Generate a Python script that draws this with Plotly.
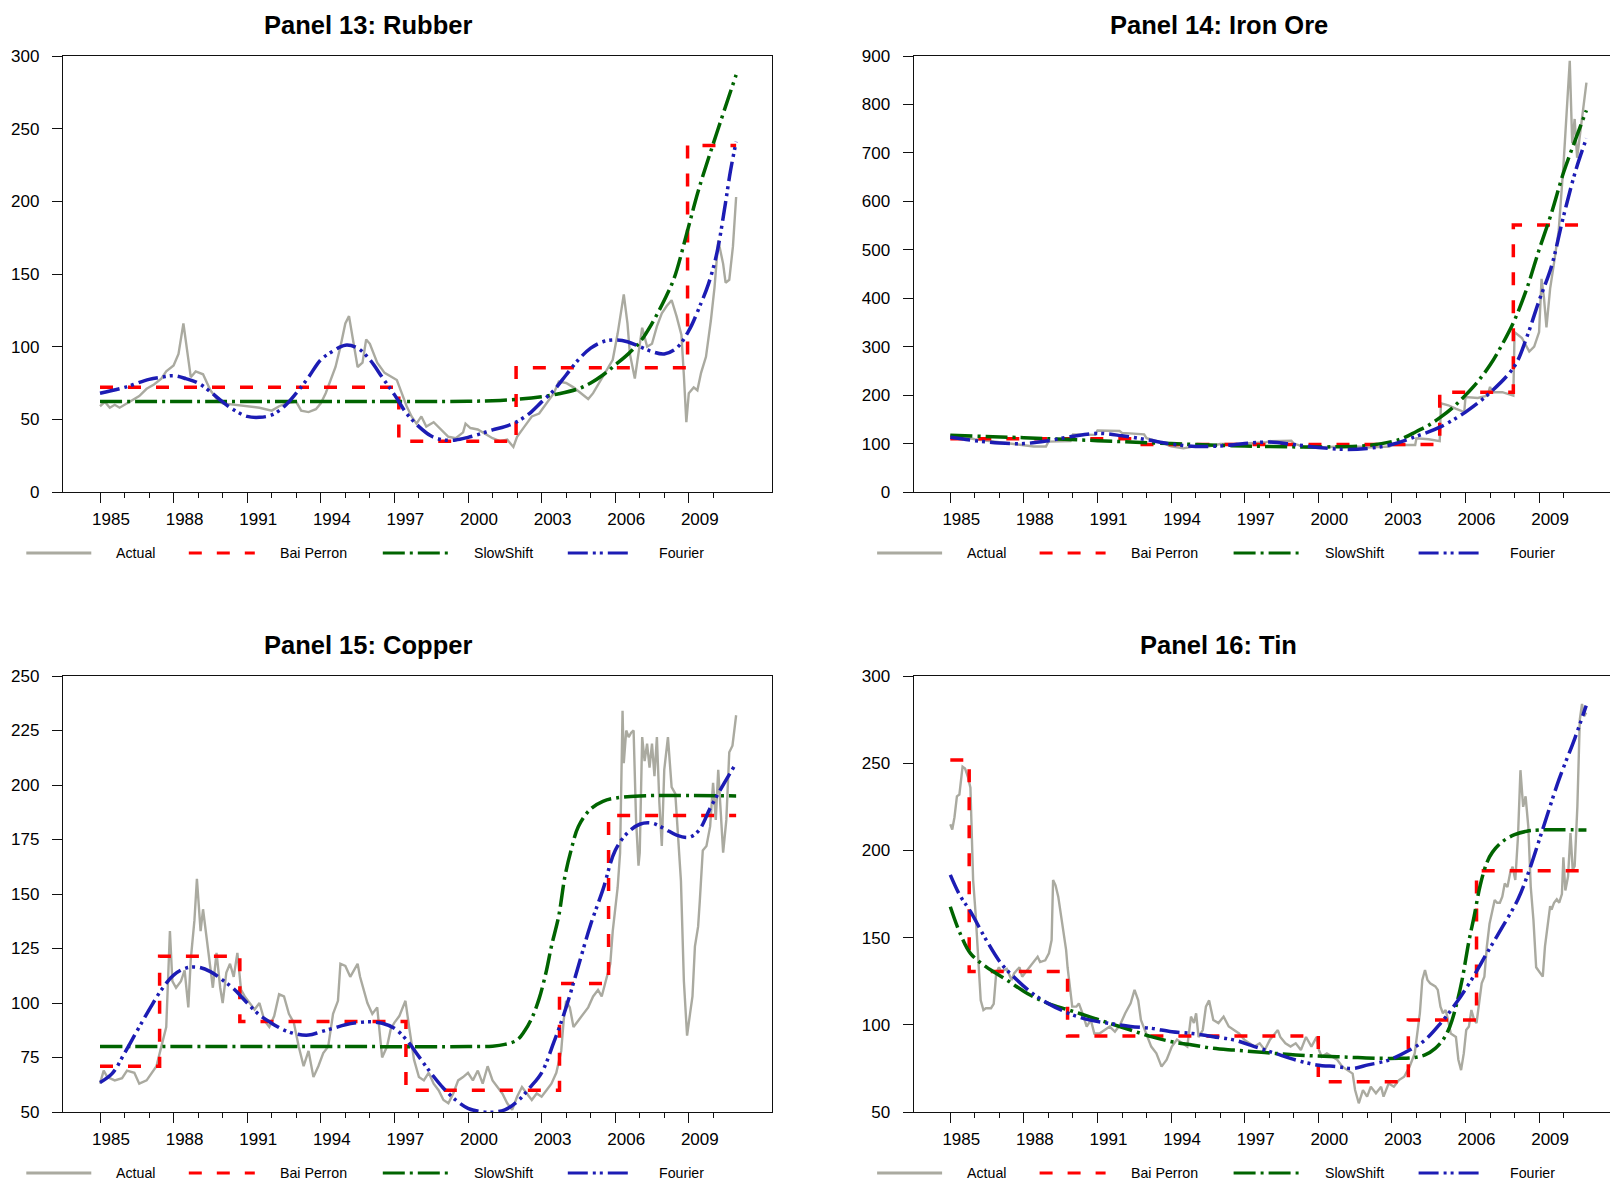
import plotly.graph_objects as go

W, H = 1610, 1185

# ---------------- axis ticks ----------------
major_years = [1985, 1988, 1991, 1994, 1997, 2000, 2003, 2006, 2009]
major_labels = [str(y) for y in major_years]
minor_years = list(range(1985, 2011))

# ---------------- Panel 13: Rubber ----------------
rubber_actual = [(1985.0, 59), (1985.2, 62), (1985.4, 58), (1985.6, 60), (1985.8, 58), (1986.0, 60), (1986.3, 63), (1986.6, 66),
                 (1986.9, 71), (1987.2, 74), (1987.5, 78), (1987.7, 83), (1988.0, 87), (1988.2, 95), (1988.4, 116), (1988.55, 98),
                 (1988.7, 79), (1988.9, 83), (1989.2, 81), (1989.5, 70), (1989.8, 63), (1990.0, 61), (1990.5, 60), (1991.0, 59),
                 (1991.5, 58), (1992.0, 56), (1992.3, 59), (1992.6, 61), (1993.0, 62), (1993.2, 56), (1993.5, 55), (1993.8, 57),
                 (1994.0, 61), (1994.2, 68), (1994.4, 77), (1994.6, 86), (1994.8, 100), (1995.0, 116), (1995.15, 121), (1995.3, 107),
                 (1995.5, 86), (1995.7, 89), (1995.85, 105), (1996.0, 102), (1996.3, 89), (1996.6, 82), (1996.9, 79), (1997.1, 77),
                 (1997.3, 68), (1997.5, 59), (1997.7, 52), (1997.9, 47), (1998.1, 52), (1998.3, 45), (1998.6, 48), (1998.9, 43),
                 (1999.2, 38), (1999.5, 37), (1999.8, 41), (1999.9, 47), (2000.1, 44), (2000.4, 43), (2000.7, 40), (2001.0, 37),
                 (2001.3, 35), (2001.6, 36), (2001.85, 31), (2002.0, 38), (2002.3, 45), (2002.6, 52), (2002.9, 54), (2003.2, 61),
                 (2003.5, 68), (2003.7, 76), (2004.0, 75), (2004.3, 72), (2004.6, 68), (2004.9, 64), (2005.1, 68), (2005.4, 77),
                 (2005.7, 86), (2005.9, 91), (2006.1, 109), (2006.35, 136), (2006.5, 116), (2006.6, 95), (2006.8, 78), (2007.0, 100),
                 (2007.1, 113), (2007.3, 100), (2007.5, 102), (2007.7, 114), (2007.9, 123), (2008.1, 128), (2008.3, 132), (2008.5, 121),
                 (2008.7, 108), (2008.8, 80), (2008.9, 48), (2009.0, 68), (2009.2, 72), (2009.35, 70), (2009.5, 82), (2009.7, 93),
                 (2009.9, 118), (2010.05, 141), (2010.2, 173), (2010.4, 157), (2010.5, 144), (2010.65, 146), (2010.8, 169), (2010.93, 203)]
rubber_baiperron = [(1985.0, 72), (1997.18, 35), (2001.96, 85.5), (2008.95, 238.5), (2010.93, 238.5)]
rubber_slowshift = [(1985.0, 62.2), (1990.0, 62.2), (1995.0, 62.2), (2000.0, 62.4), (2001.0, 62.8), (2002.0, 63.8), (2003.0, 65.6),
                    (2003.7, 67.6), (2004.5, 71), (2005.0, 75), (2005.5, 80.5), (2006.0, 87.4), (2006.5, 94.5), (2007.0, 103),
                    (2007.5, 116), (2008.0, 132), (2008.4, 147), (2008.95, 180), (2009.4, 208), (2010.14, 247), (2010.93, 287)]
rubber_fourier = [(1985.0, 68), (1986.0, 72), (1987.0, 77.5), (1987.5, 79), (1988.0, 80), (1988.5, 78), (1989.0, 75), (1989.5, 69),
                  (1990.0, 62), (1990.5, 56), (1991.0, 52), (1991.5, 51.4), (1992.0, 53), (1992.5, 58.7), (1993.0, 68), (1993.5, 79),
                  (1994.0, 91), (1994.5, 97), (1995.0, 101), (1995.5, 99), (1996.0, 91), (1996.5, 79), (1997.0, 67), (1997.5, 54),
                  (1998.0, 45), (1998.5, 38.5), (1999.0, 35.8), (1999.5, 35.8), (2000.0, 37.6), (2000.5, 40), (2001.0, 42.7),
                  (2001.5, 45), (2002.0, 48.4), (2002.5, 54), (2003.0, 62), (2003.5, 70), (2004.0, 80.5), (2004.5, 91), (2005.0, 99),
                  (2005.5, 103.4), (2006.0, 104.6), (2006.5, 103.4), (2007.0, 100), (2007.5, 96.6), (2008.0, 95), (2008.5, 99),
                  (2009.0, 111), (2009.5, 130), (2009.8, 143), (2010.14, 164), (2010.45, 194), (2010.7, 221), (2010.93, 241)]

# ---------------- Panel 14: Iron Ore ----------------
iron_actual = [(1985.0, 117), (1985.5, 114), (1986.0, 109), (1986.5, 106), (1987.0, 102), (1987.5, 100), (1988.0, 97), (1988.4, 94),
               (1988.9, 94), (1989.0, 104), (1989.9, 105), (1990.0, 119), (1990.9, 118), (1991.0, 127), (1991.9, 126), (1992.0, 122),
               (1992.9, 119), (1993.0, 111), (1993.5, 104), (1994.0, 94), (1994.5, 90), (1995.0, 95), (1995.5, 94), (1996.0, 99),
               (1996.9, 99), (1997.0, 100), (1997.9, 103), (1998.0, 105), (1998.9, 106), (1999.0, 100), (1999.5, 92), (2000.0, 92),
               (2000.9, 94), (2001.0, 95), (2001.9, 93), (2002.0, 92), (2002.9, 94), (2003.0, 97), (2003.95, 97), (2004.0, 111),
               (2004.5, 109), (2004.95, 105), (2005.0, 183), (2005.3, 179), (2005.6, 172), (2005.95, 165), (2006.0, 196),
               (2006.5, 194), (2006.9, 199), (2007.0, 217), (2007.1, 206), (2007.5, 206), (2007.95, 199), (2008.0, 330),
               (2008.3, 318), (2008.6, 290), (2008.8, 300), (2009.0, 330), (2009.1, 440), (2009.2, 400), (2009.3, 340),
               (2009.45, 420), (2009.6, 470), (2009.8, 540), (2010.0, 680), (2010.1, 760), (2010.25, 890), (2010.35, 720),
               (2010.45, 770), (2010.55, 690), (2010.7, 750), (2010.93, 845)]
iron_baiperron = [(1985.0, 110), (1992.6, 98), (2004.95, 206), (2007.95, 551), (2010.93, 551)]
iron_slowshift = [(1985.0, 117), (1988.0, 112), (1991.0, 106), (1994.0, 100), (1997.0, 95), (2000.0, 93), (2002.0, 96), (2003.0, 104),
                  (2003.5, 112), (2004.0, 125), (2004.5, 138), (2005.0, 155), (2005.5, 175), (2006.0, 200), (2006.5, 228),
                  (2007.0, 262), (2007.5, 305), (2008.0, 355), (2008.5, 420), (2009.0, 500), (2009.5, 575), (2010.0, 660),
                  (2010.5, 730), (2010.93, 788)]
iron_fourier = [(1985.0, 113), (1986.0, 106), (1987.0, 101), (1988.0, 100), (1989.0, 106), (1990.0, 115), (1991.0, 121), (1992.0, 116),
                (1993.0, 108), (1994.0, 99), (1995.0, 94), (1996.0, 95), (1997.0, 100), (1998.0, 103), (1999.0, 98), (2000.0, 92),
                (2001.0, 88), (2002.0, 90), (2003.0, 98), (2004.0, 115), (2005.0, 135), (2006.0, 165), (2007.0, 205), (2008.0, 260),
                (2008.5, 320), (2009.0, 395), (2009.5, 465), (2010.0, 570), (2010.5, 665), (2010.93, 730)]

# ---------------- Panel 15: Copper ----------------
copper_actual = [(1985.0, 63), (1985.15, 69), (1985.3, 66), (1985.6, 64.5), (1985.9, 65.5), (1986.1, 69), (1986.4, 68), (1986.6, 63),
                 (1986.9, 64.5), (1987.1, 68), (1987.3, 71), (1987.5, 80), (1987.7, 89), (1987.85, 133), (1987.95, 110), (1988.1, 107),
                 (1988.3, 110), (1988.45, 115), (1988.6, 98), (1988.7, 120), (1988.85, 138), (1988.95, 157), (1989.1, 133),
                 (1989.2, 143), (1989.4, 126), (1989.6, 107), (1989.75, 123), (1989.9, 107), (1990.0, 100), (1990.15, 114),
                 (1990.3, 118), (1990.45, 112), (1990.6, 123), (1990.75, 106), (1990.9, 103), (1991.1, 100), (1991.3, 97),
                 (1991.5, 100), (1991.7, 92), (1991.9, 89), (1992.1, 94), (1992.3, 104), (1992.5, 103), (1992.7, 95), (1992.9, 91),
                 (1993.1, 80), (1993.3, 71), (1993.5, 78), (1993.7, 66), (1993.9, 71), (1994.1, 77), (1994.3, 80), (1994.5, 95),
                 (1994.7, 101), (1994.8, 118), (1995.0, 117), (1995.2, 112), (1995.35, 115), (1995.5, 118), (1995.6, 112),
                 (1995.75, 106), (1995.9, 100), (1996.1, 95), (1996.3, 98), (1996.5, 75), (1996.7, 80), (1996.85, 88), (1997.0, 91),
                 (1997.2, 94), (1997.35, 98), (1997.45, 101), (1997.6, 89), (1997.8, 74), (1998.0, 66), (1998.2, 64.5), (1998.4, 68),
                 (1998.6, 63), (1998.8, 60), (1999.0, 55.5), (1999.2, 54), (1999.4, 58.5), (1999.6, 64.5), (1999.8, 66), (2000.0, 68),
                 (2000.2, 64.5), (2000.4, 69), (2000.6, 63), (2000.8, 71), (2001.0, 64.5), (2001.2, 61.5), (2001.4, 58.5),
                 (2001.6, 54), (2001.8, 51), (2002.0, 57), (2002.2, 61.5), (2002.4, 58.5), (2002.6, 55.5), (2002.8, 58.5),
                 (2003.0, 57), (2003.2, 60), (2003.4, 63), (2003.6, 68), (2003.8, 78), (2003.9, 92), (2004.0, 101), (2004.15, 98),
                 (2004.3, 89), (2004.5, 92), (2004.7, 95), (2004.9, 98), (2005.1, 103), (2005.3, 106), (2005.45, 103), (2005.6, 110),
                 (2005.8, 118), (2005.9, 133), (2006.0, 144), (2006.1, 153), (2006.2, 169), (2006.3, 234), (2006.35, 210),
                 (2006.45, 225), (2006.55, 222), (2006.65, 224), (2006.75, 225), (2006.85, 184), (2006.95, 163), (2007.0, 169),
                 (2007.1, 222), (2007.2, 211), (2007.3, 219), (2007.4, 208), (2007.5, 219), (2007.6, 204), (2007.7, 222),
                 (2007.8, 192), (2007.9, 172), (2008.0, 207), (2008.15, 222), (2008.3, 199), (2008.45, 196), (2008.6, 169),
                 (2008.68, 156), (2008.8, 110), (2008.93, 85), (2009.05, 95), (2009.15, 103), (2009.25, 126), (2009.38, 135),
                 (2009.45, 147), (2009.57, 170), (2009.72, 172), (2009.87, 181), (2009.99, 201), (2010.1, 184), (2010.2, 207),
                 (2010.3, 190), (2010.4, 169), (2010.53, 184), (2010.65, 215), (2010.78, 218), (2010.93, 232)]
copper_baiperron = [(1985.0, 71), (1987.43, 121.5), (1990.7, 91.5), (1997.47, 60), (2003.73, 109), (2005.73, 186), (2010.93, 186)]
copper_slowshift = [(1985.0, 80), (1995.0, 80), (2000.0, 80), (2001.0, 80.2), (2001.5, 81), (2002.0, 83), (2002.3, 87), (2002.6, 93),
                    (2002.9, 102), (2003.2, 115), (2003.4, 126), (2003.7, 140), (2003.95, 158), (2004.2, 170), (2004.5, 181),
                    (2005.0, 189), (2005.5, 192.5), (2006.0, 194), (2007.0, 195), (2010.93, 195)]
copper_fourier = [(1985.0, 63.5), (1985.5, 67.7), (1986.0, 77), (1986.5, 87), (1987.0, 96.8), (1987.5, 106), (1988.0, 112.8),
                  (1988.5, 116), (1989.0, 116.4), (1989.5, 114.4), (1990.0, 110.5), (1990.5, 106), (1991.0, 100), (1991.5, 94.5),
                  (1992.0, 90.7), (1992.5, 87.6), (1993.0, 85.8), (1993.5, 85.3), (1994.0, 86.8), (1994.5, 88.4), (1995.0, 90),
                  (1995.5, 91), (1996.0, 91.4), (1996.5, 90.7), (1997.0, 88.4), (1997.5, 83), (1998.0, 75.4), (1998.5, 67.7),
                  (1999.0, 60.9), (1999.5, 55.5), (2000.0, 51.7), (2000.5, 50.2), (2001.0, 49.9), (2001.5, 51), (2002.0, 54.7),
                  (2002.5, 60.9), (2003.0, 68), (2003.5, 82), (2004.0, 98), (2004.5, 117), (2005.0, 136), (2005.5, 152),
                  (2006.0, 170), (2006.5, 178), (2007.0, 182), (2007.5, 182.5), (2008.0, 180), (2008.5, 177), (2009.0, 176),
                  (2009.4, 179), (2009.9, 190), (2010.45, 201), (2010.93, 210)]

# ---------------- Panel 16: Tin ----------------
tin_actual = [(1985.0, 215), (1985.08, 212), (1985.17, 219), (1985.27, 231), (1985.37, 232), (1985.5, 248), (1985.6, 247),
              (1985.72, 242), (1985.82, 236), (1985.93, 183), (1986.03, 164), (1986.1, 145), (1986.18, 122), (1986.24, 114),
              (1986.35, 108.5), (1986.45, 109.5), (1986.66, 109.5), (1986.77, 112), (1986.87, 129.5), (1986.98, 133),
              (1987.08, 130.5), (1987.3, 132), (1987.5, 125.7), (1987.6, 129.5), (1987.82, 133), (1987.93, 127.6), (1988.14, 131.4),
              (1988.35, 135), (1988.56, 139), (1988.66, 136), (1988.87, 137), (1989.02, 141), (1989.13, 148.6), (1989.19, 183),
              (1989.29, 180), (1989.4, 173.5), (1989.5, 164), (1989.61, 152.4), (1989.72, 143), (1989.78, 133), (1989.86, 122),
              (1989.97, 110.4), (1990.14, 110.4), (1990.24, 112.3), (1990.39, 106.6), (1990.56, 99), (1990.73, 102.8), (1990.87, 95),
              (1991.08, 95), (1991.29, 97), (1991.5, 99), (1991.71, 96), (1991.92, 100), (1992.13, 106.6), (1992.35, 112.3),
              (1992.51, 120), (1992.66, 114), (1992.77, 102.8), (1992.98, 95), (1993.19, 87.5), (1993.4, 83.7), (1993.61, 76),
              (1993.82, 80), (1994.03, 87.5), (1994.24, 91.5), (1994.45, 89.4), (1994.66, 87.5), (1994.81, 104.7), (1994.93, 101),
              (1995.02, 106.6), (1995.12, 93), (1995.29, 97), (1995.42, 110.4), (1995.55, 114), (1995.72, 102.8), (1995.93, 101),
              (1996.14, 104.7), (1996.35, 99), (1996.56, 97), (1996.77, 95), (1996.98, 91.5), (1997.19, 89.4), (1997.4, 87.5),
              (1997.61, 89.4), (1997.82, 85.5), (1998.03, 91.5), (1998.24, 95), (1998.35, 97), (1998.45, 93), (1998.66, 89.4),
              (1998.87, 87.5), (1999.08, 89.4), (1999.29, 85.5), (1999.5, 93), (1999.72, 87.5), (1999.93, 93), (2000.03, 85.5),
              (2000.14, 81.7), (2000.35, 83.6), (2000.56, 81.7), (2000.77, 80), (2000.98, 76), (2001.19, 74), (2001.4, 72),
              (2001.5, 62.6), (2001.65, 55), (2001.82, 62.6), (2001.99, 58.8), (2002.14, 64.5), (2002.35, 60.7), (2002.56, 64.5),
              (2002.66, 58.8), (2002.87, 66.4), (2003.08, 64.5), (2003.29, 68.3), (2003.5, 70.2), (2003.72, 76), (2003.93, 83.6),
              (2004.14, 106.6), (2004.24, 125.7), (2004.35, 131.4), (2004.45, 125.7), (2004.56, 123.8), (2004.77, 122),
              (2004.87, 120), (2004.98, 110.4), (2005.08, 106.6), (2005.19, 108.5), (2005.29, 102.8), (2005.4, 95), (2005.61, 93),
              (2005.71, 80), (2005.82, 74), (2005.93, 83.6), (2006.03, 97), (2006.14, 99), (2006.24, 108.5), (2006.35, 102.8),
              (2006.45, 101), (2006.56, 112.3), (2006.66, 123.8), (2006.77, 127.6), (2006.87, 144.8), (2006.98, 158),
              (2007.08, 164), (2007.19, 171.6), (2007.29, 170), (2007.4, 170), (2007.5, 173.5), (2007.6, 181), (2007.71, 179),
              (2007.82, 187), (2007.92, 190.7), (2008.03, 183), (2008.14, 208), (2008.24, 246), (2008.35, 225), (2008.45, 231),
              (2008.56, 213.6), (2008.66, 179), (2008.77, 160), (2008.88, 133), (2008.98, 131), (2009.15, 127.6), (2009.24, 145),
              (2009.35, 158), (2009.45, 168), (2009.51, 166), (2009.61, 170), (2009.72, 172), (2009.82, 170), (2009.93, 175),
              (2009.99, 196), (2010.07, 177), (2010.18, 185), (2010.28, 210), (2010.37, 189), (2010.45, 191), (2010.56, 225),
              (2010.66, 275), (2010.75, 284), (2010.84, 277), (2010.92, 279)]
tin_baiperron = [(1985.0, 251.8), (1985.77, 130.5), (1989.78, 93.6), (2000.0, 67.4), (2003.67, 102.8), (2006.45, 188.4), (2010.93, 188.4)]
tin_slowshift = [(1985.0, 167.7), (1985.4, 152.4), (1985.82, 141), (1986.45, 133.3), (1987.3, 125.7), (1988.14, 118), (1988.98, 112.3),
                 (1989.82, 108.5), (1990.66, 104.7), (1991.5, 100.8), (1992.35, 97), (1993.19, 93.2), (1994.03, 90.3),
                 (1994.87, 88.4), (1995.72, 86.5), (1996.56, 85.5), (1997.4, 84.6), (1998.24, 83.6), (1999.08, 82.7),
                 (1999.93, 82.1), (2000.77, 81.7), (2001.61, 81.2), (2002.45, 80.8), (2003.29, 80.8), (2003.93, 81.3),
                 (2004.35, 82.7), (2004.77, 86.5), (2005.08, 91.3), (2005.36, 98.9), (2005.61, 110.4), (2005.86, 125.7),
                 (2006.14, 148), (2006.35, 162), (2006.6, 180), (2006.87, 193), (2007.1, 199), (2007.5, 205), (2008.0, 209),
                 (2008.5, 211), (2009.0, 211.7), (2010.93, 211.7)]
tin_fourier = [(1985.0, 186), (1985.4, 174), (1985.82, 165), (1986.45, 149), (1987.08, 135), (1987.72, 125.7), (1988.35, 118),
               (1988.98, 112.3), (1989.82, 106.6), (1990.66, 102.8), (1991.5, 100.8), (1992.35, 99), (1993.19, 98), (1994.03, 96),
               (1994.87, 95), (1995.72, 93.2), (1996.56, 91.3), (1997.4, 87.5), (1998.24, 83.6), (1999.08, 79.8), (1999.93, 77),
               (2000.77, 76), (2001.4, 75), (2002.03, 77), (2002.87, 79.8), (2003.72, 85.5), (2004.35, 91.3), (2004.98, 100.8),
               (2005.61, 112.3), (2006.24, 125.7), (2006.87, 141), (2007.5, 156), (2008.14, 172), (2008.56, 187), (2009.19, 214),
               (2009.82, 241), (2010.45, 264), (2010.92, 283)]

# ---------------- panel setup (pixel layout of the page) ----------------
PXYR = 24.533          # pixels per year
panels = [
    dict(title="Panel 13: Rubber", series=(rubber_actual, rubber_baiperron, rubber_slowshift, rubber_fourier),
         L=62.8, R=772.4, top=56, bot=492, t1985=100.0, yrange=[0, 300], yticks=[0, 50, 100, 150, 200, 250, 300]),
    dict(title="Panel 14: Iron Ore", series=(iron_actual, iron_baiperron, iron_slowshift, iron_fourier),
         L=913.6, R=W, top=56, bot=492, t1985=950.3, yrange=[0, 900], yticks=[0, 100, 200, 300, 400, 500, 600, 700, 800, 900]),
    dict(title="Panel 15: Copper", series=(copper_actual, copper_baiperron, copper_slowshift, copper_fourier),
         L=62.8, R=772.4, top=676, bot=1112, t1985=100.0, yrange=[50, 250], yticks=[50, 75, 100, 125, 150, 175, 200, 225, 250]),
    dict(title="Panel 16: Tin", series=(tin_actual, tin_baiperron, tin_slowshift, tin_fourier),
         L=913.6, R=W, top=676, bot=1112, t1985=950.3, yrange=[50, 300], yticks=[50, 100, 150, 200, 250, 300]),
]

GRAY = "rgb(170,170,160)"
RED = "rgb(255,0,0)"
GREEN = "rgb(0,100,0)"
BLUE = "rgb(28,28,180)"
AXC = "#111111"
SANS = "Liberation Sans, Arial, sans-serif"
TICKFONT = dict(family=SANS, size=17, color="black")

styles = [
    dict(name="Actual", color=GRAY, width=2.4, dash="solid", shape="linear"),
    dict(name="Bai Perron", color=RED, width=3.5, dash="13px,15px", shape="hv"),
    dict(name="SlowShift", color=GREEN, width=3.5, dash="22px,5px,3px,5px", shape="spline"),
    dict(name="Fourier", color=BLUE, width=3.5, dash="20px,5px,3px,4px,3px,5px", shape="spline"),
]

fig = go.Figure()
shapes, annotations = [], []

for i, p in enumerate(panels):
    k = "" if i == 0 else str(i + 1)
    xa, ya = "x" + k, "y" + k
    for s, data in zip(styles, p["series"]):
        xs = [d[0] for d in data]
        ys = [d[1] for d in data]
        line = dict(color=s["color"], width=s["width"], dash=s["dash"], shape=s["shape"])
        if s["shape"] == "spline":
            line["smoothing"] = 1.0
        fig.add_trace(go.Scatter(x=xs, y=ys, mode="lines", line=line, name=s["name"],
                                 showlegend=False, xaxis=xa, yaxis=ya, hoverinfo="skip"))

    left_panel = p["R"] < W
    x0 = 1985 - (p["t1985"] - p["L"]) / PXYR
    x1 = 1985 + (p["R"] - p["t1985"]) / PXYR
    fig.layout["xaxis" + k] = dict(
        domain=[p["L"] / W, p["R"] / W], range=[x0, x1], anchor=ya,
        tickmode="array", tickvals=major_years, ticktext=major_labels,
        ticks="outside", ticklen=10, tickwidth=1, tickcolor=AXC,
        ticklabelshift=11, ticklabelstandoff=2,
        minor=dict(tickmode="array", tickvals=minor_years, ticks="outside", ticklen=5, tickwidth=1, tickcolor=AXC),
        showline=True, linecolor=AXC, linewidth=1, mirror=True,
        showgrid=False, zeroline=False, tickfont=TICKFONT, automargin=False, fixedrange=True)
    fig.layout["yaxis" + k] = dict(
        domain=[1 - p["bot"] / H, 1 - p["top"] / H], range=p["yrange"], anchor=xa,
        tickmode="array", tickvals=p["yticks"],
        ticks="outside", ticklen=10, tickwidth=1, tickcolor=AXC, ticklabelstandoff=9,
        showline=True, linecolor=AXC, linewidth=1, mirror=left_panel,
        showgrid=False, zeroline=False, tickfont=TICKFONT, automargin=False, fixedrange=True)

    # title
    title_y = p["top"] - 31
    annotations.append(dict(text="<b>" + p["title"] + "</b>", x=(p["L"] + 305) / W, y=1 - title_y / H,
                            xref="paper", yref="paper", xanchor="center", yanchor="middle", showarrow=False,
                            font=dict(family=SANS, size=25.5, color="black")))

    # legend row under the panel
    leg_y = p["bot"] + 61
    offsets = [(-36.5, 28.5, 51.5), (126, 192, 215.5), (320, 386, 409.5), (505, 567, 594.5)]
    for s, (a, b, tx) in zip(styles, offsets):
        shapes.append(dict(type="line", xref="paper", yref="paper",
                           x0=(p["L"] + a) / W, x1=(p["L"] + b) / W, y0=1 - leg_y / H, y1=1 - leg_y / H,
                           line=dict(color=s["color"], width=3.2 if s["name"] != "Actual" else 3,
                                     dash=s["dash"])))
        annotations.append(dict(text=s["name"], x=(p["L"] + tx) / W, y=1 - leg_y / H, xref="paper", yref="paper",
                                xanchor="left", yanchor="middle", showarrow=False,
                                font=dict(family=SANS, size=14.2, color="black")))

fig.update_layout(
    template="none",
    width=W, height=H,
    margin=dict(l=0, r=0, t=0, b=0),
    paper_bgcolor="white", plot_bgcolor="white",
    showlegend=False,
    shapes=shapes, annotations=annotations,
)

fig.write_html("out.html", config={"displayModeBar": False, "staticPlot": True},
               post_script="document.body.style.margin='0';document.body.style.overflow='hidden';")
